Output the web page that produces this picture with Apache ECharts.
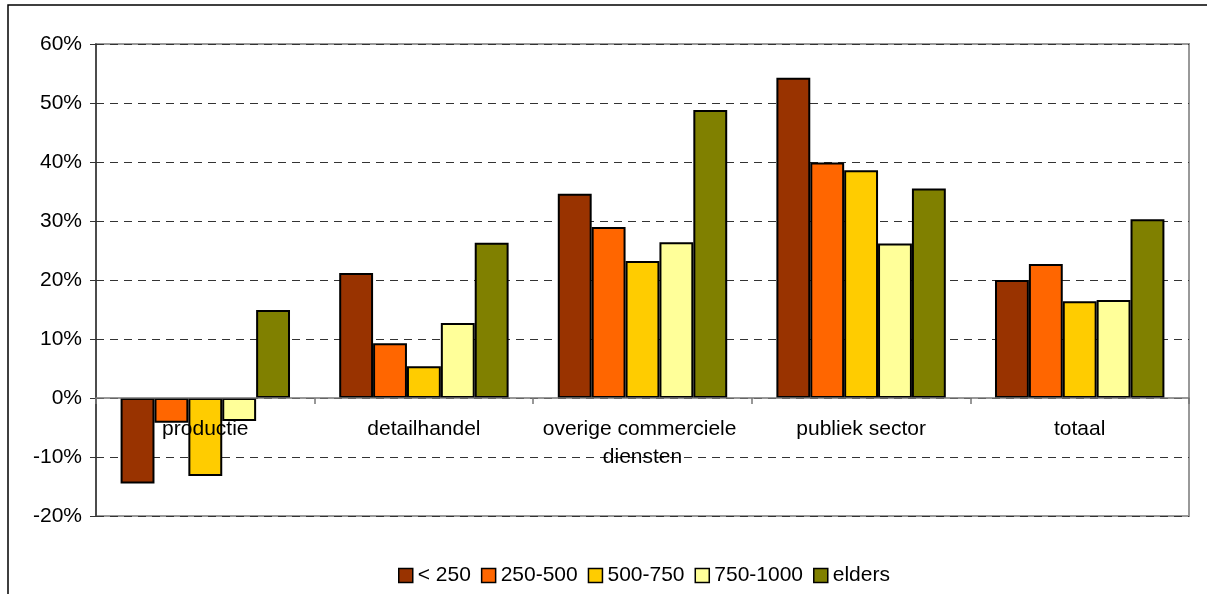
<!DOCTYPE html>
<html>
<head>
<meta charset="utf-8">
<script src="https://cdn.jsdelivr.net/npm/echarts@6/dist/echarts.min.js"></script>
<style>
  html, body { margin: 0; padding: 0; background: #fff; }
  #chart { width: 1207px; height: 594px; }
</style>
</head>
<body>
<div id="chart"></div>
<script>
// Sectors along the category axis
const categories = ['productie', 'detailhandel', 'overige commerciele diensten', 'publiek sector', 'totaal'];

// Size classes (legend) and their colours
const seriesNames = ['< 250', '250-500', '500-750', '750-1000', 'elders'];
const seriesColors = ['#993300', '#FF6600', '#FFCC00', '#FFFF99', '#808000'];

// Change per sector, in percent
const lt250    = [-14.5, 21.2, 34.6, 54.3, 20.0];
const s250_500 = [-4.2,   9.3, 29.0, 39.9, 22.7];
const s500_750 = [-13.2,  5.4, 23.2, 38.6, 16.4];
const s750_1000 = [-3.9, 12.7, 26.4, 26.2, 16.6];
const elders   = [14.9,  26.3, 48.8, 35.5, 30.3];

// Value axis range
const yMin = -20, yMax = 60, yStep = 10;

const seriesValues = [lt250, s250_500, s500_750, s750_1000, elders];
const font = 'Liberation Sans, Arial, Helvetica, sans-serif';

// Plot box in pixels
const gridTop = 44, gridBottom = 78, chartH = 594;
const plotH = chartH - gridTop - gridBottom;
// Shift the category axis up from the bottom edge to the 0% line
const zeroOffset = -plotH * (0 - yMin) / (yMax - yMin);

const chart = echarts.init(document.getElementById('chart'), null, { renderer: 'canvas' });

chart.setOption({
  animation: false,
  textStyle: { fontFamily: font },
  graphic: [{
    type: 'rect',
    shape: { x: 8, y: 5, width: 1400, height: 800 },
    style: { fill: 'none', stroke: '#000', lineWidth: 1.5 },
    silent: true,
    z: -10
  }],
  grid: {
    left: 96, right: 18, top: gridTop, bottom: gridBottom,
    show: true, borderColor: '#999', borderWidth: 2, backgroundColor: 'transparent'
  },
  legend: {
    data: seriesNames,
    bottom: 3,
    left: 393,
    itemWidth: 14, itemHeight: 14, itemGap: 10,
    icon: 'rect',
    textStyle: { fontSize: 21, color: '#000', fontFamily: font },
    itemStyle: { borderColor: '#000', borderWidth: 1.5 }
  },
  xAxis: {
    type: 'category',
    data: categories,
    position: 'bottom',
    offset: zeroOffset,
    z: 10,
    axisLine: { onZero: false, lineStyle: { color: '#777', width: 1.5 } },
    axisTick: { show: true, length: 6, lineStyle: { color: '#777', width: 1.5 } },
    axisLabel: {
      fontSize: 21, color: '#000', margin: 17, fontFamily: font,
      interval: 0, width: 216, overflow: 'break', lineHeight: 28
    },
    splitLine: { show: false }
  },
  yAxis: {
    type: 'value',
    min: yMin, max: yMax, interval: yStep,
    axisLine: { show: true, lineStyle: { color: '#333', width: 1.5 } },
    axisTick: { show: true, length: 6, lineStyle: { color: '#333' } },
    axisLabel: {
      fontSize: 21, color: '#000', margin: 14, fontFamily: font,
      formatter: v => v + '%'
    },
    splitLine: { show: true, lineStyle: { color: '#333', type: [8, 6], width: 1 } }
  },
  series: seriesNames.map((name, i) => ({
    name,
    type: 'bar',
    data: seriesValues[i],
    barGap: '0%',
    barCategoryGap: '22.5%',
    itemStyle: { color: seriesColors[i], borderColor: '#000', borderWidth: 2 }
  }))
});
</script>
</body>
</html>
